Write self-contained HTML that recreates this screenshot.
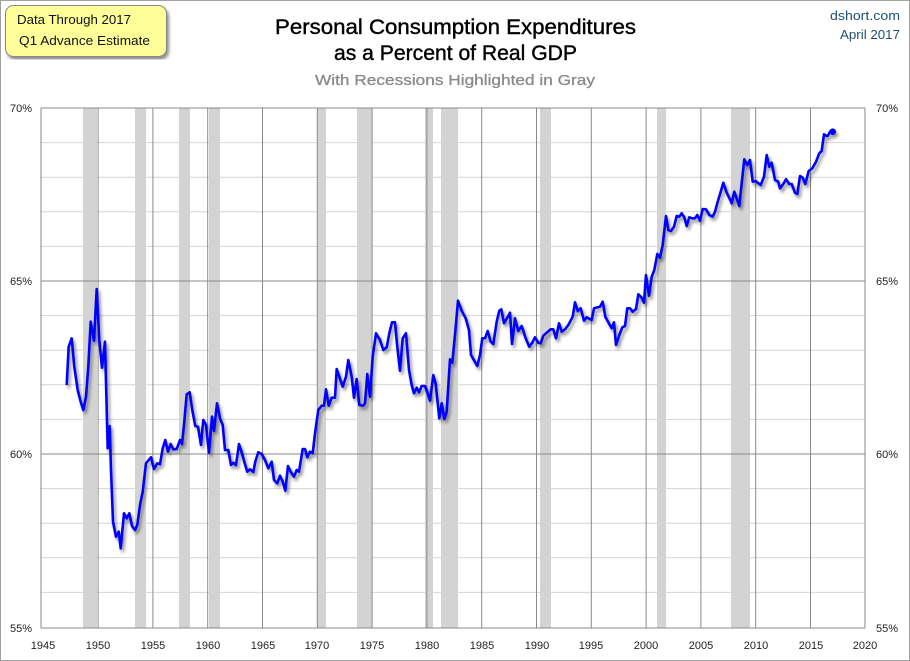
<!DOCTYPE html>
<html><head><meta charset="utf-8"><style>
html,body{margin:0;padding:0;background:#fff}
svg{display:block}
text{font-family:"Liberation Sans",sans-serif}
</style></head><body>
<svg width="910" height="661" viewBox="0 0 910 661" xmlns="http://www.w3.org/2000/svg">
<defs>
<filter id="sh" x="-5%" y="-5%" width="110%" height="110%">
<feGaussianBlur in="SourceAlpha" stdDeviation="1.5"/>
<feOffset dx="2" dy="3" result="b"/>
<feComponentTransfer><feFuncA type="linear" slope="0.45"/></feComponentTransfer>
<feMerge><feMergeNode/><feMergeNode in="SourceGraphic"/></feMerge>
</filter>
</defs>
<rect x="0.5" y="0.5" width="909" height="660" fill="#fff" stroke="#a0a0a0"/>
<g fill="#d3d3d3">
<rect x="83" y="108" width="14" height="520"/>
<rect x="135" y="108" width="11" height="520"/>
<rect x="179" y="108" width="11" height="520"/>
<rect x="209" y="108" width="11" height="520"/>
<rect x="317" y="108" width="9" height="520"/>
<rect x="357" y="108" width="15" height="520"/>
<rect x="425" y="108" width="8" height="520"/>
<rect x="441" y="108" width="17" height="520"/>
<rect x="540" y="108" width="11" height="520"/>
<rect x="657" y="108" width="9" height="520"/>
<rect x="731" y="108" width="19" height="520"/>
</g>
<g stroke="#d4d4d4" stroke-width="1">
<line x1="41" x2="865" y1="142.6" y2="142.6"/><line x1="41" x2="865" y1="177.2" y2="177.2"/><line x1="41" x2="865" y1="211.8" y2="211.8"/><line x1="41" x2="865" y1="246.4" y2="246.4"/>
<line x1="41" x2="865" y1="315.6" y2="315.6"/><line x1="41" x2="865" y1="350.2" y2="350.2"/><line x1="41" x2="865" y1="384.8" y2="384.8"/><line x1="41" x2="865" y1="419.4" y2="419.4"/>
<line x1="41" x2="865" y1="488.6" y2="488.6"/><line x1="41" x2="865" y1="523.2" y2="523.2"/><line x1="41" x2="865" y1="557.8" y2="557.8"/><line x1="41" x2="865" y1="592.4" y2="592.4"/>
</g>
<g stroke="#8a8a8a" stroke-width="1">
<line x1="41" x2="865" y1="108" y2="108"/><line x1="41" x2="865" y1="281" y2="281"/><line x1="41" x2="865" y1="454" y2="454"/><line x1="41" x2="865" y1="628" y2="628"/>
<line x1="41" x2="41" y1="108" y2="628"/>
<line x1="98.1" x2="98.1" y1="108" y2="628"/><line x1="152.9" x2="152.9" y1="108" y2="628"/><line x1="207.7" x2="207.7" y1="108" y2="628"/><line x1="262.5" x2="262.5" y1="108" y2="628"/><line x1="317.3" x2="317.3" y1="108" y2="628"/><line x1="372.1" x2="372.1" y1="108" y2="628"/><line x1="426.9" x2="426.9" y1="108" y2="628"/><line x1="481.7" x2="481.7" y1="108" y2="628"/><line x1="536.5" x2="536.5" y1="108" y2="628"/><line x1="591.3" x2="591.3" y1="108" y2="628"/><line x1="646.1" x2="646.1" y1="108" y2="628"/><line x1="700.9" x2="700.9" y1="108" y2="628"/><line x1="755.7" x2="755.7" y1="108" y2="628"/><line x1="810.5" x2="810.5" y1="108" y2="628"/><line x1="865" x2="865" y1="108" y2="628"/>
</g>
<g font-size="11" fill="#222">
<text x="32" y="112" text-anchor="end">70%</text><text x="32" y="285" text-anchor="end">65%</text><text x="32" y="458" text-anchor="end">60%</text><text x="32" y="632" text-anchor="end">55%</text>
<text x="876" y="112">70%</text><text x="876" y="285">65%</text><text x="876" y="458">60%</text><text x="876" y="632">55%</text>
</g>
<g font-size="11" fill="#222" text-anchor="middle">
<text x="43" y="649">1945</text><text x="98" y="649">1950</text><text x="153" y="649">1955</text><text x="208" y="649">1960</text><text x="263" y="649">1965</text><text x="317" y="649">1970</text><text x="372" y="649">1975</text><text x="427" y="649">1980</text><text x="482" y="649">1985</text><text x="537" y="649">1990</text><text x="591" y="649">1995</text><text x="646" y="649">2000</text><text x="701" y="649">2005</text><text x="756" y="649">2010</text><text x="811" y="649">2015</text><text x="865" y="649">2020</text>
</g>
<g filter="url(#sh)">
<polyline fill="none" stroke="#0000ff" stroke-width="2.6" stroke-linejoin="round" points="66.7,385 68.7,346.7 71.7,338.3 74.3,366.7 77.7,390 80.7,401.7 83.3,410 86,396.7 88.3,366.7 90.7,321.7 94,340.7 96.7,289 99.3,340 102,367.7 105,341.7 107.7,448.3 109.7,426 111,470 113,521.7 116,536.7 118.7,531.7 120.7,548.3 124,513.3 126.7,518.3 129.3,513.3 132,526 135,530 137.3,525 140,505 142.7,491.7 146,463.3 151,457.3 154,469 157.3,463.3 160,464.3 162.7,448.3 165.3,440 168,451.7 170.7,444 173.3,449.3 176.7,449 180,440 182,444 184,425 186.7,394.3 189.7,392.3 192.3,410 195.3,426 198,426.7 201,445 203.3,420 206,425 209,452.7 212,416.7 214,431 217,403.3 220,418.3 222.7,425 225,450 228.3,450 231,465 233.3,462.7 236,465 239,444 242,453.3 244.7,463.3 247.3,471.7 250,469.3 253.3,472 255.3,461.7 258.3,452.3 261.7,454 265,460 268.3,468.3 271.7,461.7 274,480 277.3,483.3 280,475.7 282.7,481.7 285.3,490.7 288,466 290.7,471.7 294,476.7 296.7,470 299,471.7 302.7,449 305,449 307.3,457.3 310,451.7 312.7,453.3 315,433.3 318.3,410 321.7,405.7 324,405.7 326,389.3 328.7,405.7 331.7,397.7 335,397.7 336.7,369 339.3,376.7 342.7,386.7 346,376.7 348.3,360 351.7,376.7 354,397.7 356.7,379 359.3,405 363.3,405.7 365,403.3 367.3,374 370,396.7 372.7,356.7 376,333.3 380,340 383.3,350 386.7,347.3 389.3,333.3 392,322.3 395,322.3 397.3,346.7 400,370.7 402.7,338.3 406,333.3 409,370 411.7,385 414,393.3 416.7,387.7 419,392.3 421.7,386 425,386 427.7,393.3 430,400.7 433.3,375 435.7,384 439.3,418.3 441.7,403.3 444.3,419 446.7,411.7 450,359.3 452.3,362.7 455.3,331.7 458,300.7 461.7,310.7 465.7,318.3 469,330 471,355 474.3,360.7 477.3,366 480,355 482.3,338.3 485,338.3 487.7,331 490.7,341.7 493.3,344 496.7,321.7 499.3,310.7 501.3,309.3 504,323.3 507.3,317.7 510,312.7 512,344 515,318.3 518.3,331 521.7,326 525.7,338.3 529.3,346.7 532.3,342.7 535,337.3 538.3,342.7 540.7,343.3 543.3,335.7 546.7,332.7 550.7,329.3 553.3,329.3 556,338.3 559,323.3 561.7,331.7 565,329.3 568.3,325 572.7,316.7 575,302.3 577.7,311 580.7,308.3 584,320.7 586.7,317.3 591.7,320 594,308.3 600,306.7 602.7,301.7 605.3,316.7 609.3,324 611.7,328.3 614,322.3 616,345 619.3,335 622.3,327.3 625,326 627.3,308.3 630,308.3 632.7,311.7 636,309 638.3,294.3 641.7,297.7 644,302.7 646,275 649,295.7 651.7,276.7 654.3,270 657.3,254 660,257.7 662.7,245 666,216 668.3,230 671,231 674,226.7 676.7,216 679.3,216.7 681.7,213.3 684.3,217.3 686.7,226 689.3,217.3 692.3,218.3 695,218.3 697.3,215 700,220.7 702.7,209 706,209.3 709.3,215 712.7,216.7 715,211.7 717.7,201.7 720.7,191.7 723.3,182.7 726.7,192.7 730,199.3 731.7,203.3 734.3,191.7 736.7,198.3 739.3,206 741.7,183.3 744.3,159.3 747.3,165 750,160 752.7,181.7 755.7,181 757.7,182.7 760.7,185 764,176.7 766.7,155 769.3,166.7 771.7,162.7 775,180 778.3,181.7 780,188.3 783.3,184 786,179.3 789.3,184 791.7,184 795,192.7 797.3,194 800,176 802.7,177.7 805.3,184 808.7,171 812.3,168.3 816,161.7 819.3,153.3 821.7,151 824,134.3 826,135.7 827.7,136 830,131.7 832.7,131.7"/>
<circle cx="832.7" cy="131.7" r="3.3" fill="#0000ff"/>
</g>
<rect x="5.5" y="5.5" width="161" height="51" rx="8" fill="#ffff99" stroke="#888" filter="url(#sh)"/>
<text x="17" y="24" font-size="13" fill="#111" textLength="114" lengthAdjust="spacingAndGlyphs">Data Through 2017</text>
<text x="19" y="45" font-size="13" fill="#111" textLength="131" lengthAdjust="spacingAndGlyphs">Q1 Advance Estimate</text>
<text x="275" y="34" font-size="21" fill="#000" stroke="#000" stroke-width="0.4" textLength="361" lengthAdjust="spacingAndGlyphs">Personal Consumption Expenditures</text>
<text x="334" y="60" font-size="21" fill="#000" stroke="#000" stroke-width="0.4" textLength="243" lengthAdjust="spacingAndGlyphs">as a Percent of Real GDP</text>
<text x="315" y="85" font-size="15" fill="#8a8a8a" stroke="#8a8a8a" stroke-width="0.3" textLength="280" lengthAdjust="spacingAndGlyphs">With Recessions Highlighted in Gray</text>
<text x="830" y="20" font-size="13" fill="#1f4e79" textLength="70" lengthAdjust="spacingAndGlyphs">dshort.com</text>
<text x="840" y="39" font-size="13" fill="#1f4e79" textLength="60" lengthAdjust="spacingAndGlyphs">April 2017</text>
</svg>
</body></html>
